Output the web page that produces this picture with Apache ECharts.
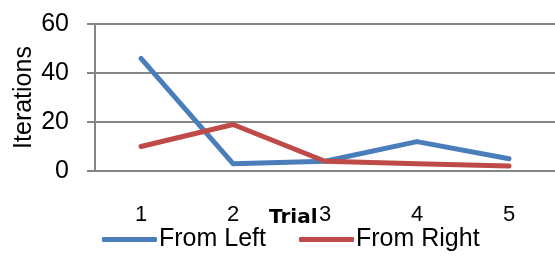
<!DOCTYPE html>
<html>
<head>
<meta charset="utf-8">
<script src="https://cdn.jsdelivr.net/npm/echarts@6/dist/echarts.min.js"></script>
<style>
  html, body { margin: 0; padding: 0; background: #fff; }
  #chart { width: 555px; height: 256px; }
</style>
</head>
<body>
<div id="chart"></div>
<script>
const trials = ["1", "2", "3", "4", "5"];
const fromLeft = [46, 3, 4, 12, 5];
const fromRight = [10, 19, 4, 3, 2];

const chart = echarts.init(document.getElementById("chart"));

const font = "'Liberation Sans', Arial, sans-serif";

chart.setOption({
   animation: false,
   textStyle: { fontFamily: font, color: "#000" },
   grid: { left: 95, right: 0, top: 24, bottom: 85, outerBoundsMode: "none", containLabel: false },
   legend: {
      bottom: -1,
      left: 97,
      itemWidth: 55,
      itemHeight: 5,
      itemGap: 33,
      icon: "roundRect",
      textStyle: { fontSize: 25, fontFamily: font, color: "#000", padding: [0, 0, 0, -3] },
      data: ["From Left", "From Right"],
   },
   graphic: [
      {
         type: "text",
         left: 269,
         top: 208,
         style: {
            text: "Trial",
            font: "bold 20px 'DejaVu Sans', sans-serif",
            fill: "#000",
         },
      },
   ],
   xAxis: {
      type: "category",
      data: trials,
      boundaryGap: true,
      axisLine: { show: true, lineStyle: { color: "#868686", width: 2 } },
      axisTick: { show: false },
      axisLabel: { fontSize: 22, margin: 33, color: "#000", fontFamily: font },
   },
   yAxis: {
      type: "value",
      min: 0,
      max: 60,
      interval: 20,
      name: "Iterations",
      nameLocation: "middle",
      nameGap: 58,
      nameRotate: 90,
      nameMoveOverlap: false,
      nameTextStyle: { fontSize: 25, color: "#000", fontFamily: font },
      axisLine: { show: true, lineStyle: { color: "#868686", width: 2 } },
      axisTick: { show: true, length: 8, lineStyle: { color: "#868686", width: 2 } },
      axisLabel: { fontSize: 25, margin: 26, color: "#000", fontFamily: font },
      splitLine: { show: true, lineStyle: { color: "#868686", width: 2 } },
   },
   series: [
      {
         name: "From Left",
         type: "line",
         data: fromLeft,
         symbol: "none",
         lineStyle: { width: 5, color: "#4A7EBB", cap: "round", join: "round" },
         itemStyle: { color: "#4A7EBB" },
      },
      {
         name: "From Right",
         type: "line",
         data: fromRight,
         symbol: "none",
         lineStyle: { width: 5, color: "#BE4B48", cap: "round", join: "round" },
         itemStyle: { color: "#BE4B48" },
      },
   ],
});
</script>
</body>
</html>
